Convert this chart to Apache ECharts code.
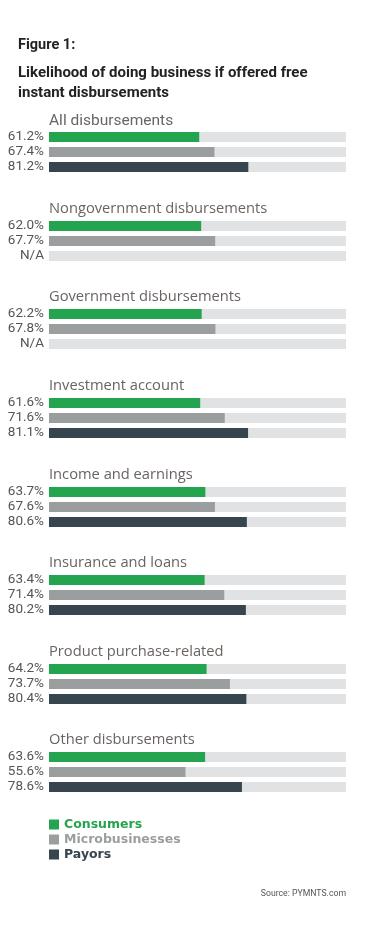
<!DOCTYPE html>
<html><head><meta charset="utf-8">
<script src="https://cdn.jsdelivr.net/npm/echarts@6/dist/echarts.min.js"></script>
<style>html,body{margin:0;padding:0;background:#fff}#c{width:381px;height:929px}</style>
</head><body><div id="c"></div>
<script>
var groups = ['All disbursements','Nongovernment disbursements','Government disbursements','Investment account','Income and earnings','Insurance and loans','Product purchase-related','Other disbursements'];
var seriesNames = ['Consumers','Microbusinesses','Payors'];
var consumers = [61.2, 62.0, 62.2, 61.6, 63.7, 63.4, 64.2, 63.6];
var microbusinesses = [67.4, 67.7, 67.8, 71.6, 67.6, 71.4, 73.7, 55.6];
var payors = [81.2, null, null, 81.1, 80.6, 80.2, 80.4, 78.6];
var axisMax = 121;

var colors = ['#25a44f','#9b9e9f','#37454e'];
var trackColor = '#e1e2e4';
var values = [consumers, microbusinesses, payors];
var barTops = [132, 221, 309, 398, 487, 575, 664, 752];

var grids = [], xAxes = [], yAxes = [], series = [], titles = [];
titles.push({text:'Figure 1:', left:18, top:38, padding:0, textStyle:{fontFamily:'Roboto', fontWeight:'bold', fontSize:14.5, color:'#222'}});
titles.push({text:'Likelihood of doing business if offered free\ninstant disbursements', left:18, top:63, padding:0, textStyle:{fontFamily:'Roboto', fontWeight:'bold', fontSize:15, lineHeight:20, color:'#222'}});
titles.push({text:'Source: PYMNTS.com', right:35, top:889, padding:0, textStyle:{fontFamily:'Roboto', fontWeight:'normal', fontSize:8.7, color:'#555'}});

groups.forEach(function(g, gi){
  var top = barTops[gi] - 2.5;
  grids.push({left:49, right:35, top:top, height:45});
  xAxes.push({gridIndex:gi, type:'value', min:0, max:axisMax, show:false});
  yAxes.push({gridIndex:gi, type:'category', inverse:true, data:seriesNames,
    axisLine:{show:false}, axisTick:{show:false}, splitLine:{show:false},
    axisLabel:{interval:0, margin:5, fontFamily:'Liberation Sans Narrow, Roboto', fontSize:13.5, color:'#555',
      formatter:(function(idx){ return function(v, i){ var val = values[i][idx]; return val == null ? 'N/A' : val.toFixed(1) + '%'; }; })(gi)}});
  if (gi === 0) {
    titles.push({text:g, left:49, top:barTops[gi]-19, padding:0, textStyle:{fontFamily:'Liberation Sans Narrow, Roboto', fontWeight:'normal', fontSize:15.5, color:'#666'}});
  } else {
    titles.push({text:g, left:49, top:barTops[gi]-20, padding:0, textStyle:{fontFamily:'Open Sans', fontWeight:'normal', fontSize:14.7, color:'#6a6461'}});
  }
  series.push({type:'bar', name:'track', xAxisIndex:gi, yAxisIndex:gi, barWidth:10, barGap:'-100%', silent:true,
    itemStyle:{color:trackColor}, data:seriesNames.map(function(){return axisMax;}), z:1});
  seriesNames.forEach(function(sn, si){
    series.push({type:'bar', name:sn, xAxisIndex:gi, yAxisIndex:gi, barWidth:10, barGap:'-100%', z:2,
      itemStyle:{color:colors[si]},
      data:seriesNames.map(function(_, ci){ return ci === si ? (values[si][gi] == null ? '-' : values[si][gi]) : '-'; })});
  });
});

var chart = echarts.init(document.getElementById('c'), null, {renderer:'canvas'});
chart.setOption({
  animation:false,
  title:titles,
  grid:grids, xAxis:xAxes, yAxis:yAxes, series:series,
  legend:{orient:'vertical', left:44, top:812, itemWidth:10, itemHeight:10, itemGap:0, icon:'rect', selectedMode:false,
    data:seriesNames.map(function(n, i){ return {name:n, textStyle:{color:colors[i]}}; }),
    textStyle:{fontFamily:'DejaVu Sans', fontWeight:'bold', fontSize:12.5, lineHeight:15}}
});
</script></body></html>
